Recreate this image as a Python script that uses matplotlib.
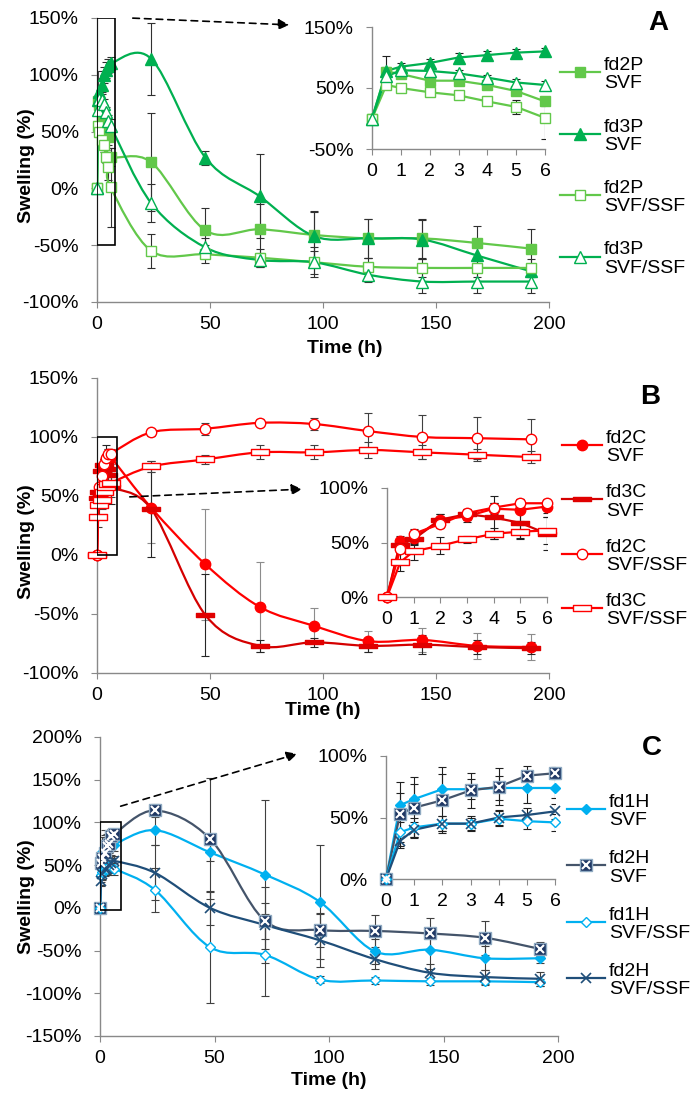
import numpy as np
import matplotlib
matplotlib.use('Agg')
import matplotlib.pyplot as plt
from matplotlib.path import Path
from matplotlib.patches import PathPatch, Rectangle, FancyArrowPatch
from matplotlib.lines import Line2D
from matplotlib.ticker import FuncFormatter

plt.rcParams['font.family'] = ['Liberation Sans', 'DejaVu Sans']
plt.rcParams['font.size'] = 14
plt.rcParams['axes.unicode_minus'] = False

# sampling times (h)
time_h = [0, 0.5, 1, 2, 3, 4, 5, 6, 24, 48, 72, 96, 120, 144, 168, 192]

# panel A - swelling (%) and error
fd2P_svf = [0, 77, 73, 62, 62, 55, 45, 28, 23, -37, -36, -41, -44, -44, -48, -53]
fd2P_svf_err = [0, 8, 6, 6, 6, 6, 7, 8, 43, 20, 22, 21, 17, 17, 15, 17]
fd3P_svf = [0, 78, 85, 91, 100, 104, 108, 110, 114, 27, -7, -42, -44, -45, -59, -73]
fd3P_svf_err = [0, 25, 6, 6, 7, 7, 6, 6, 32, 6, 37, 21, 17, 17, 8, 5]
fd2P_ssf = [0, 55, 50, 43, 38, 28, 19, 1, -55, -58, -61, -65, -69, -70, -70, -70]
fd2P_ssf_err = [0, 6, 6, 5, 6, 6, 12, 35, 15, 8, 8, 10, 8, 8, 8, 8]
fd3P_ssf = [0, 69, 79, 78, 74, 67, 59, 55, -13, -52, -63, -65, -76, -82, -82, -82]
fd3P_ssf_err = [0, 8, 6, 5, 5, 5, 6, 6, 17, 8, 6, 13, 6, 10, 10, 10]

# panel B
fd2C_svf = [0, 51, 54, 71, 74, 81, 80, 83, 40, -8, -44, -60, -73, -72, -77, -78]
fd2C_svf_err = [0, 5, 5, 5, 5, 5, 10, 6, 30, 47, 38, 15, 9, 10, 11, 11]
fd3C_svf = [0, 48, 53, 71, 76, 73, 68, 58, 39, -51, -77, -74, -77, -76, -78, -79]
fd3C_svf_err = [0, 5, 5, 5, 5, 20, 15, 15, 41, 35, 5, 4, 5, 8, 6, 5]
fd2C_ssf = [0, 44, 58, 67, 77, 82, 86, 86, 104, 107, 112, 111, 105, 100, 99, 98]
fd2C_ssf_err = [0, 4, 4, 4, 4, 4, 4, 4, 3, 5, 3, 5, 15, 19, 18, 17]
fd3C_ssf = [0, 32, 42, 47, 53, 58, 60, 61, 75, 81, 87, 87, 89, 87, 85, 83]
fd3C_ssf_err = [0, 8, 8, 8, 3, 5, 6, 12, 5, 4, 6, 6, 7, 6, 5, 5]

# panel C
fd1H_svf = [0, 60, 65, 73, 73, 74, 74, 74, 91, 65, 39, 7, -51, -49, -59, -59]
fd1H_svf_err = [0, 10, 12, 12, 8, 10, 12, 8, 18, 10, 87, 67, 15, 22, 14, 6]
fd2H_svf = [0, 53, 58, 64, 72, 75, 84, 86, 114, 81, -15, -26, -27, -30, -35, -48]
fd2H_svf_err = [0, 26, 25, 27, 14, 15, 8, 5, 8, 71, 21, 20, 19, 18, 20, 8]
fd1H_ssf = [0, 38, 42, 45, 45, 49, 47, 46, 21, -46, -55, -84, -85, -86, -86, -87]
fd1H_ssf_err = [0, 8, 8, 6, 6, 6, 6, 7, 26, 65, 48, 4, 4, 4, 4, 4]
fd2H_ssf = [0, 31, 40, 45, 45, 50, 52, 55, 41, 0, -20, -38, -60, -76, -81, -83]
fd2H_ssf_err = [0, 6, 6, 6, 5, 6, 6, 6, 32, 20, 44, 31, 12, 10, 8, 8]

W, H = 695, 1093
GREEN_L = '#62C84A'
GREEN_D = '#00B050'
RED = '#FF0000'
BLUE_L = '#00B0F0'
NAVY = '#1F3864'
SPINE = '#898989'

dash_filled = Path([(-1, -0.25), (1, -0.25), (1, 0.25), (-1, 0.25), (-1, -0.25)],
                   [Path.MOVETO, Path.LINETO, Path.LINETO, Path.LINETO, Path.CLOSEPOLY])
dash_open = Path([(-1, -0.3), (1, -0.3), (1, 0.3), (-1, 0.3), (-1, -0.3)],
                 [Path.MOVETO, Path.LINETO, Path.LINETO, Path.LINETO, Path.CLOSEPOLY])


def fpos(x, y):
    # pixel position in the figure -> figure fraction
    return x / W, 1 - y / H


def box(x0, y0, x1, y1):
    return [x0 / W, 1 - y1 / H, (x1 - x0) / W, (y1 - y0) / H]


def smooth_path(x, y):
    p = np.column_stack([x, y]).astype(float)
    n = len(p)
    verts, codes = [p[0]], [Path.MOVETO]
    for i in range(n - 1):
        p0 = p[i - 1] if i > 0 else p[i]
        p3 = p[i + 2] if i + 2 < n else p[i + 1]
        verts += [p[i] + (p[i + 1] - p0) / 6, p[i + 1] - (p3 - p[i]) / 6, p[i + 1]]
        codes += [Path.CURVE4] * 3
    return Path(verts, codes)


def draw(ax, y, err, st, smooth=True, n=None, ecolor='#303030'):
    x = np.array(time_h[:n], float)
    y = np.array(y[:n], float)
    e = np.array(err[:n], float)
    ax.errorbar(x, y, yerr=e, fmt='none', ecolor=ecolor, elinewidth=0.8,
                capsize=3, capthick=0.8, zorder=2)
    if smooth:
        ax.add_patch(PathPatch(smooth_path(x, y), fill=False, ec=st['lc'], lw=1.6, zorder=3))
    else:
        ax.plot(x, y, color=st['lc'], lw=1.6, zorder=3)
    ax.plot(x, y, ls='none', marker=st['m'], ms=st['ms'], mfc=st['fc'], mec=st['ec'],
            mew=st.get('mew', 1.0), zorder=4, clip_on=False)
    if st.get('over'):
        ax.plot(x, y, ls='none', marker='x', ms=st['ms'] * 0.7, mec='white', mew=1.5,
                zorder=5, clip_on=False)


def style_axes(ax, xt, yt, xlim, ylim):
    ax.set_xlim(*xlim)
    ax.set_ylim(*ylim)
    ax.set_xticks(xt)
    ax.set_yticks(yt)
    ax.yaxis.set_major_formatter(FuncFormatter(lambda v, p: f'{v:.0f}%'))
    for s in ['top', 'right']:
        ax.spines[s].set_visible(False)
    for s in ['left', 'bottom']:
        ax.spines[s].set_color(SPINE)
        ax.spines[s].set_linewidth(1.0)
    ax.tick_params(axis='both', direction='out', length=4, width=0.8, color=SPINE, labelsize=14)
    ax.tick_params(axis='y', pad=9)
    ax.tick_params(axis='x', pad=6)
    ax.set_facecolor('none')


def legend(entries, x0, x1, y0, step):
    for i, (label, st) in enumerate(entries):
        yy = y0 + i * step
        fx0, fy = fpos(x0, yy)
        fx1, _ = fpos(x1, yy)
        fig.add_artist(Line2D([fx0, fx1], [fy, fy], color=st['lc'], lw=1.6,
                              transform=fig.transFigure))
        fig.add_artist(Line2D([(fx0 + fx1) / 2], [fy], ls='none', marker=st['m'], ms=st['ms'],
                              mfc=st['fc'], mec=st['ec'], mew=st.get('mew', 1.0),
                              transform=fig.transFigure))
        if st.get('over'):
            fig.add_artist(Line2D([(fx0 + fx1) / 2], [fy], ls='none', marker='x',
                                  ms=st['ms'] * 0.7, mec='white', mew=1.5,
                                  transform=fig.transFigure))
        tx, _ = fpos(x1 + 4, yy)
        fig.text(tx, fy, label, ha='left', va='center_baseline', fontsize=14, linespacing=1.1)


def arrow(p0, p1):
    fig.add_artist(FancyArrowPatch(fpos(*p0), fpos(*p1), transform=fig.transFigure,
                                   arrowstyle='-|>', mutation_scale=16, lw=1.2,
                                   ls=(0, (4, 3)), color='black'))


fig = plt.figure(figsize=(W / 100, H / 100), dpi=100)

# ---------------- panel A ----------------
stA = [
    ('fd2P\nSVF', fd2P_svf, fd2P_svf_err, dict(m='s', ms=7, fc=GREEN_L, ec=GREEN_L, lc=GREEN_L)),
    ('fd3P\nSVF', fd3P_svf, fd3P_svf_err, dict(m='^', ms=8, fc=GREEN_D, ec=GREEN_D, lc=GREEN_D)),
    ('fd2P\nSVF/SSF', fd2P_ssf, fd2P_ssf_err, dict(m='s', ms=7, fc='white', ec=GREEN_L, lc=GREEN_L)),
    ('fd3P\nSVF/SSF', fd3P_ssf, fd3P_ssf_err, dict(m='^', ms=8, fc='white', ec=GREEN_D, lc=GREEN_D)),
]
axA = fig.add_axes(box(97, 18, 549, 302))
style_axes(axA, [0, 50, 100, 150, 200], np.arange(-100, 151, 50), (0, 200), (-100, 150))
for lab, y, e, st in stA:
    draw(axA, y, e, st)
axA.add_patch(Rectangle((0, -50), 8, 200, fill=False, ec='black', lw=1.2, zorder=6))
axA.set_xlabel('Time (h)', fontweight='bold')
axA.set_ylabel('Swelling (%)', fontweight='bold')
axA.xaxis.set_label_coords(0.549, -0.134)
axA.yaxis.set_label_coords(-0.137, 0.479)

insA = fig.add_axes(box(372, 27, 545, 149))
style_axes(insA, range(7), [-50, 50, 150], (0, 6), (-50, 150))
for lab, y, e, st in stA:
    draw(insA, y, e, st, smooth=False, n=8, ecolor='#202020')
legend([(l, s) for l, _, _, s in stA], 560, 600, 72, 61.5)
fig.text(*fpos(658, 23), 'A', fontsize=20, fontweight='bold', ha='center', va='center')
arrow((130, 18), (292, 25))

# ---------------- panel B ----------------
stB = [
    ('fd2C\nSVF', fd2C_svf, fd2C_svf_err, dict(m='o', ms=7.5, fc=RED, ec=RED, lc=RED), '#8c8c8c'),
    ('fd3C\nSVF', fd3C_svf, fd3C_svf_err, dict(m=dash_filled, ms=13, fc='#E00000', ec='#E00000', lc='#D40000'), '#262626'),
    ('fd2C\nSVF/SSF', fd2C_ssf, fd2C_ssf_err, dict(m='o', ms=7.5, fc='white', ec=RED, lc=RED), '#404040'),
    ('fd3C\nSVF/SSF', fd3C_ssf, fd3C_ssf_err, dict(m=dash_open, ms=13, fc='white', ec=RED, lc=RED), '#404040'),
]
axB = fig.add_axes(box(97, 378, 549, 673))
style_axes(axB, [0, 50, 100, 150, 200], np.arange(-100, 151, 50), (0, 200), (-100, 150))
for lab, y, e, st, ec in stB:
    draw(axB, y, e, st, ecolor=ec)
axB.add_patch(Rectangle((0, 0), 9, 100, fill=False, ec='black', lw=1.2, zorder=6))
axB.set_xlabel('Time (h)', fontweight='bold')
axB.set_ylabel('Swelling (%)', fontweight='bold')
axB.xaxis.set_label_coords(0.5, -0.098)
axB.yaxis.set_label_coords(-0.137, 0.444)

insB = fig.add_axes(box(387, 488, 547, 597))
style_axes(insB, range(7), [0, 50, 100], (0, 6), (0, 100))
for lab, y, e, st, ec in stB:
    draw(insB, y, e, st, smooth=False, n=8, ecolor='#202020')
legend([(l, s) for l, _, _, s, _ in stB], 562, 602, 445, 54.3)
fig.text(*fpos(650, 397), 'B', fontsize=20, fontweight='bold', ha='center', va='center')
arrow((127, 497), (305, 489))

# ---------------- panel C ----------------
stC = [
    ('fd1H\nSVF', fd1H_svf, fd1H_svf_err, dict(m='D', ms=5.5, fc=BLUE_L, ec=BLUE_L, lc=BLUE_L)),
    ('fd2H\nSVF', fd2H_svf, fd2H_svf_err, dict(m='s', ms=8.5, fc=NAVY, ec='#8EA9C1', lc='#44546A', over=True)),
    ('fd1H\nSVF/SSF', fd1H_ssf, fd1H_ssf_err, dict(m='D', ms=5.5, fc='white', ec=BLUE_L, lc=BLUE_L)),
    ('fd2H\nSVF/SSF', fd2H_ssf, fd2H_ssf_err, dict(m='x', ms=7.5, fc='#1F4E79', ec='#1F4E79', lc='#1F4E79', mew=1.2)),
]
axC = fig.add_axes(box(100, 737, 558, 1036))
style_axes(axC, [0, 50, 100, 150, 200], np.arange(-150, 201, 50), (0, 200), (-150, 200))
for lab, y, e, st in stC:
    draw(axC, y, e, st, ecolor='#404040')
axC.add_patch(Rectangle((0, -3), 9, 103, fill=False, ec='black', lw=1.2, zorder=6))
axC.set_xlabel('Time (h)', fontweight='bold')
axC.set_ylabel('Swelling (%)', fontweight='bold')
axC.xaxis.set_label_coords(0.5, -0.12)
axC.yaxis.set_label_coords(-0.142, 0.465)

insC = fig.add_axes(box(386, 756, 555, 879))
style_axes(insC, range(7), [0, 50, 100], (0, 6), (0, 100))
for lab, y, e, st in stC:
    draw(insC, y, e, st, smooth=False, n=8, ecolor='#202020')
legend([(l, s) for l, _, _, s in stC], 567, 605, 809, 56.3)
fig.text(*fpos(652, 748), 'C', fontsize=20, fontweight='bold', ha='center', va='center')
arrow((118, 807), (300, 753))

fig.savefig('out.png', dpi=100)
